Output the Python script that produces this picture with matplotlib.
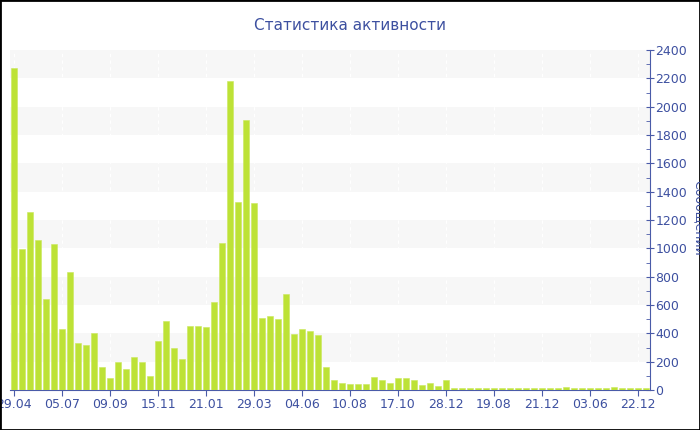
import matplotlib
matplotlib.use("Agg")
import matplotlib.pyplot as plt
import numpy as np
from matplotlib.patches import Rectangle

# ---- data ----
values = [2270, 993, 1259, 1059, 640, 1031, 431, 835, 330, 315,
          400, 165, 82, 200, 146, 235, 198, 99, 346, 485,
          297, 221, 452, 452, 445, 623, 1035, 2182, 1325, 1906,
          1318, 506, 525, 501, 678, 398, 433, 416, 386, 160,
          71, 49, 45, 40, 40, 92, 71, 49, 85, 82,
          71, 35, 47, 30, 73, 17, 15, 15, 14, 15,
          13, 12, 12, 12, 13, 12, 13, 16, 12, 20,
          12, 16, 12, 13, 12, 18, 14, 13, 12, 13]
tick_labels = ["29.04", "05.07", "09.09", "15.11", "21.01", "29.03", "04.06",
               "10.08", "17.10", "28.12", "19.08", "21.12", "03.06", "22.12"]
tick_step = 6
y_ticks = list(range(0, 2401, 200))
title = "Статистика активности"
y_label = "Сообщений"

# ---- style ----
bar_color = "#bde236"
text_color = "#3d50a0"
axis_color = "#4a5ba8"
band_color = "#f7f7f7"

fig = plt.figure(figsize=(7, 4.3), dpi=100)
W, H = 700, 430
ax = fig.add_axes([10 / W, (H - 390) / H, 640 / W, 340 / H])

x = np.arange(len(values))
ax.set_xlim(-0.5, len(values) - 0.5)
ax.set_ylim(0, 2400)

# alternating bands
for i in range(len(y_ticks) - 1):
    if i % 2 == 1:
        ax.axhspan(y_ticks[i], y_ticks[i + 1], color=band_color, zorder=0, lw=0)

tick_pos = x[::tick_step]
for p in tick_pos:
    ax.axvline(p, color="white", lw=0.8, ls=(0, (3, 3)), zorder=0.5)

ax.bar(x, values, width=0.76, color=bar_color, edgecolor="#cbe85c",
       linewidth=0.4, zorder=3)

ax.set_xticks(tick_pos)
ax.set_xticklabels(tick_labels)
ax.yaxis.tick_right()
ax.set_yticks(y_ticks)
ax.set_yticks(range(100, 2400, 200), minor=True)

for s in ["top", "left"]:
    ax.spines[s].set_visible(False)
for s in ["right", "bottom"]:
    ax.spines[s].set_color(axis_color)
    ax.spines[s].set_linewidth(0.8)
    ax.spines[s].set_zorder(2)

ax.tick_params(axis="x", colors=axis_color, direction="out", length=4,
               labelsize=9, labelcolor=text_color, pad=2)
ax.tick_params(axis="y", which="major", colors=axis_color, direction="inout",
               length=6, labelsize=9, labelcolor=text_color, pad=1)
ax.tick_params(axis="y", which="minor", colors=axis_color, direction="in",
               length=3)

fig.text(0.5, 1 - 25 / H, title, ha="center", va="center", fontsize=11,
         color=text_color)
fig.text(698 / W, 1 - 218 / H, y_label, rotation=-90, ha="center",
         va="center", fontsize=9, color=text_color)

fig.patches.append(Rectangle((0, 0), 1, 1, transform=fig.transFigure,
                             fill=False, edgecolor="black", lw=2))

fig.savefig("out.png", dpi=100)
